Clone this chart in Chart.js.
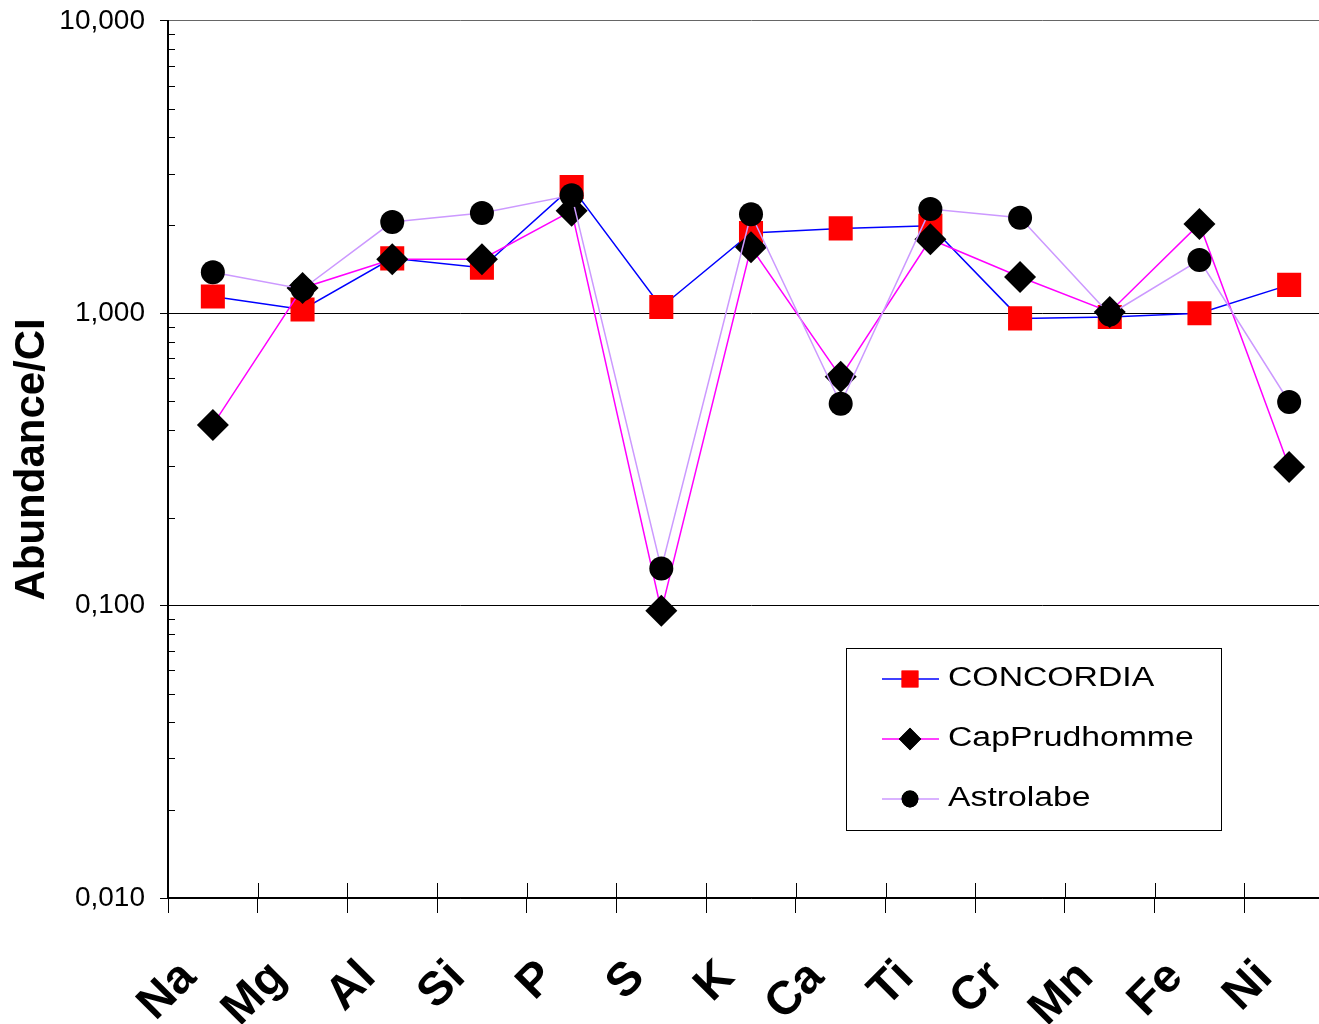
<!DOCTYPE html>
<html>
<head>
<meta charset="utf-8">
<title>Abundance/CI</title>
<script src="https://cdn.jsdelivr.net/npm/chart.js@4"></script>
<style>
    html, body { margin: 0; padding: 0; background: #fff; overflow: hidden; }
    canvas { display: block; margin-top: -11px; }
</style>
</head>
<body>
<canvas id="abundanceChart" width="1351" height="1035"></canvas>
<script>
// Data
const elements = ['Na', 'Mg', 'Al', 'Si', 'P', 'S', 'K', 'Ca', 'Ti', 'Cr', 'Mn', 'Fe', 'Ni'];
const concordia = [1.14, 1.03, 1.54, 1.43, 2.70, 1.05, 1.88, 1.95, 1.99, 0.96, 0.97, 1.00, 1.25];
const capPrudhomme = [0.415, 1.22, 1.53, 1.53, 2.24, 0.096, 1.68, 0.606, 1.79, 1.33, 1.01, 2.02, 0.298];
const astrolabe = [1.38, 1.21, 2.05, 2.20, 2.53, 0.134, 2.18, 0.49, 2.27, 2.12, 0.99, 1.52, 0.497];
const yTicks = [0.01, 0.1, 1, 10];
const yTickLabels = ['0,010', '0,100', '1,000', '10,000'];

const FONT = "'Liberation Sans', Arial, sans-serif";

// small inner tick marks (minor log ticks on y, category ticks above x axis)
const innerTicks = {
    id: 'innerTicks',
    afterDraw(chart) {
        const ctx = chart.ctx;
        const x = chart.scales.x;
        const y = chart.scales.y;
        const area = chart.chartArea;
        ctx.save();
        ctx.strokeStyle = '#000';
        ctx.lineWidth = 1;
        ctx.beginPath();
        for (let d = 0; d < yTicks.length - 1; d++) {
            for (let m = 2; m <= 9; m++) {
                const py = Math.round(y.getPixelForValue(m * yTicks[d])) + 0.5;
                ctx.moveTo(area.left, py);
                ctx.lineTo(area.left + 7, py);
            }
        }
        for (let i = 1; i < elements.length; i++) {
            const px = Math.round(x.getPixelForValue(i - 0.5)) + 0.5;
            ctx.moveTo(px, area.bottom);
            ctx.lineTo(px, area.bottom - 15);
        }
        ctx.stroke();
        ctx.restore();
    }
};

// boxed legend inside the plot area (canvas is shifted up 11px)
const boxLegend = {
    id: 'boxLegend',
    afterDraw(chart, args, opts) {
        const ctx = chart.ctx;
        ctx.save();
        ctx.fillStyle = '#fff';
        ctx.fillRect(opts.left, opts.top, opts.width, opts.height);
        ctx.strokeStyle = '#000';
        ctx.lineWidth = 1;
        ctx.strokeRect(opts.left + 0.5, opts.top + 0.5, opts.width, opts.height);
        ctx.font = '27px ' + FONT;
        ctx.textBaseline = 'middle';
        chart.data.datasets.forEach((ds, i) => {
            const cy = opts.top + opts.firstRow + i * opts.rowGap;
            ctx.strokeStyle = ds.borderColor;
            ctx.lineWidth = ds.borderWidth;
            ctx.beginPath();
            ctx.moveTo(opts.left + 36, cy);
            ctx.lineTo(opts.left + 93, cy);
            ctx.stroke();
            ctx.fillStyle = ds.pointBackgroundColor;
            Chart.helpers.drawPoint(ctx, {
                pointStyle: ds.pointStyle,
                radius: ds.pointRadius * 0.7,
                borderWidth: 0,
                rotation: 0
            }, opts.left + 64, cy);
            ctx.fill();
            // the legend text in the original is drawn wide
            ctx.save();
            ctx.translate(opts.left + 102, cy);
            ctx.scale(1.25, 1);
            ctx.fillStyle = '#000';
            ctx.fillText(ds.label, 0, 0);
            ctx.restore();
        });
        ctx.restore();
    }
};

const ctx = document.getElementById('abundanceChart').getContext('2d');
new Chart(ctx, {
    type: 'line',
    data: {
        labels: elements,
        datasets: [{
            label: 'CONCORDIA',
            data: concordia,
            borderColor: '#0000FF',
            borderWidth: 1.5,
            pointStyle: 'rect',
            pointRadius: 17,
            pointBackgroundColor: '#FF0000',
            pointBorderWidth: 0,
            order: 3
        }, {
            label: 'CapPrudhomme',
            data: capPrudhomme,
            borderColor: '#FF00FF',
            borderWidth: 1.5,
            pointStyle: 'rectRot',
            pointRadius: 16,
            pointBackgroundColor: '#000',
            pointBorderWidth: 0,
            order: 2
        }, {
            label: 'Astrolabe',
            data: astrolabe,
            borderColor: '#CC99FF',
            borderWidth: 1.5,
            pointStyle: 'circle',
            pointRadius: 12,
            pointBackgroundColor: '#000',
            pointBorderWidth: 0,
            order: 1
        }]
    },
    options: {
        responsive: false,
        animation: false,
        layout: { padding: { top: 10, left: 0, right: 0, bottom: 0 } },
        plugins: {
            legend: { display: false },
            tooltip: { enabled: false },
            boxLegend: { left: 846, top: 659, width: 375, height: 182, firstRow: 31, rowGap: 60 }
        },
        scales: {
            x: {
                type: 'category',
                offset: true,
                grid: {
                    offset: true,
                    drawOnChartArea: false,
                    tickLength: 15,
                    color: '#000'
                },
                border: { color: '#000', width: 1.5 },
                ticks: {
                    autoSkip: false,
                    minRotation: 45,
                    maxRotation: 45,
                    padding: 37,
                    labelOffset: -24,
                    color: '#000',
                    font: { family: FONT, size: 47, weight: 'bold' }
                },
                afterFit(scale) {
                    scale.height = 126;
                    scale.paddingLeft = 0;
                    scale.paddingRight = 0;
                }
            },
            y: {
                type: 'logarithmic',
                min: 0.01,
                max: 10,
                afterBuildTicks(scale) {
                    scale.ticks = yTicks.map(v => ({ value: v, major: true }));
                },
                grid: {
                    color: ctx => ctx.tick && ctx.tick.value === 10 ? '#666' : '#000',
                    tickLength: 8,
                    tickColor: '#000'
                },
                border: { color: '#000', width: 2 },
                ticks: {
                    padding: 15,
                    color: '#000',
                    font: { family: FONT, size: 28 },
                    callback: function (value) {
                        const i = yTicks.indexOf(value);
                        return i >= 0 ? yTickLabels[i] : '';
                    }
                },
                title: {
                    display: true,
                    text: 'Abundance/CI',
                    color: '#000',
                    padding: { top: 7, bottom: 0 },
                    font: { family: FONT, size: 42, weight: 'bold' }
                },
                afterFit(scale) {
                    scale.width = 168;
                }
            }
        }
    },
    plugins: [innerTicks, boxLegend]
});
</script>
</body>
</html>
